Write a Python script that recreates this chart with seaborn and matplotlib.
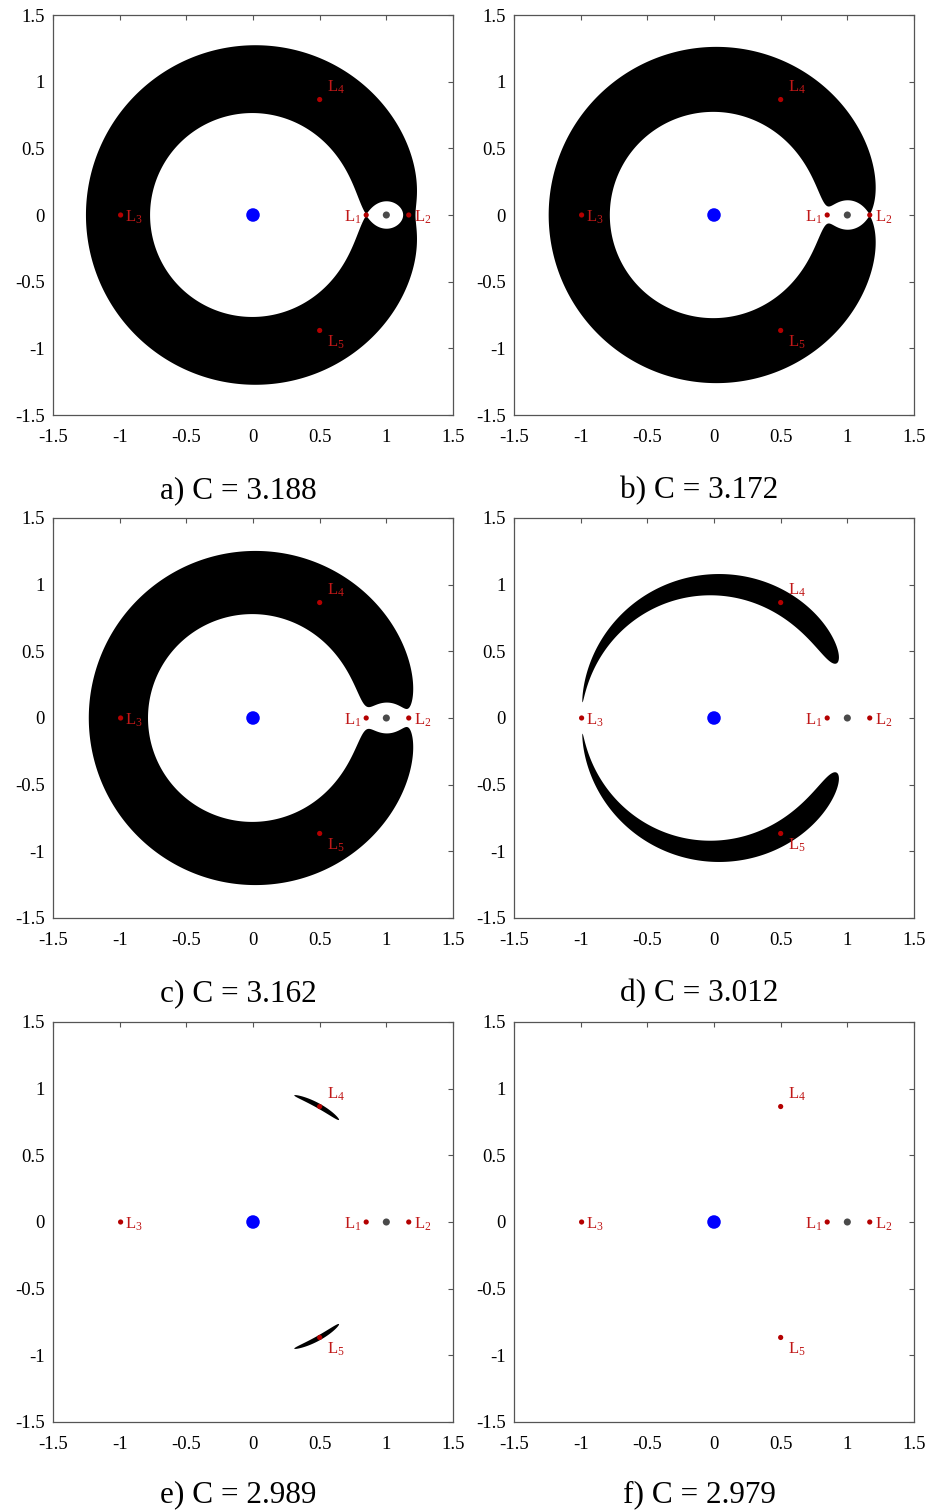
import numpy as np
import matplotlib
matplotlib.use("Agg")
import matplotlib.pyplot as plt
import seaborn as sns
import pandas as pd

# Earth-Moon circular restricted three-body problem, Earth-centred frame
mu = 0.01215
jacobi_C = [3.188, 3.172, 3.162, 3.012, 2.989, 2.979]
panel_tags = ["a)", "b)", "c)", "d)", "e)", "f)"]

# Lagrange points (Earth at origin, Moon at x = 1)
lagrange_names = ["L1", "L2", "L3", "L4", "L5"]
lagrange_x = [0.849, 1.168, -0.993, 0.5, 0.5]
lagrange_y = [0.0, 0.0, 0.0, 0.866, -0.866]

# Primaries
earth_x, earth_y = [0.0], [0.0]
moon_x, moon_y = [1.0], [0.0]

tick_vals = [-1.5, -1, -0.5, 0, 0.5, 1, 1.5]
tick_labels = ["-1.5", "-1", "-0.5", "0", "0.5", "1", "1.5"]

sns.set_theme(style="white")
plt.rcParams.update({
    "font.family": ["Liberation Serif", "DejaVu Serif"],
    "mathtext.fontset": "custom",
    "mathtext.rm": "Liberation Serif",
    "mathtext.it": "Liberation Serif:italic",
    "axes.unicode_minus": False,
    "axes.edgecolor": "#555555",
    "axes.linewidth": 0.9,
    "xtick.color": "#555555",
    "ytick.color": "#555555",
    "xtick.labelcolor": "black",
    "ytick.labelcolor": "black",
})

W, H = 933, 1510
fig = plt.figure(figsize=(W / 100, H / 100), dpi=100)

# effective potential 2*Omega on a grid (barycentre at x = mu)
g = np.linspace(-1.5, 1.5, 1500)
X, Y = np.meshgrid(g, g)
r1 = np.sqrt(X ** 2 + Y ** 2)
r2 = np.sqrt((X - 1) ** 2 + Y ** 2)
twoOmega = (X - mu) ** 2 + Y ** 2 + 2 * (1 - mu) / r1 + 2 * mu / r2

lag_df = pd.DataFrame({"x": lagrange_x, "y": lagrange_y, "name": lagrange_names})

# label offsets in points relative to each Lagrange point
label_style = {
    "L1": ((-3.5, -1.5), "right", "center"),
    "L2": ((3.5, -1.5), "left", "center"),
    "L3": ((3.5, -1.5), "left", "center"),
    "L4": ((5, 2.5), "left", "bottom"),
    "L5": ((5, -2.5), "left", "top"),
}

lefts = [53, 514]
tops = [15, 518, 1022]
size = 400
red = "#b40000"

for i, C in enumerate(jacobi_C):
    r, c = divmod(i, 2)
    ax = fig.add_axes([lefts[c] / W, 1 - (tops[r] + size) / H, size / W, size / H])

    # zero-velocity boundary: forbidden region where 2*Omega < C
    if twoOmega.min() < C:
        ax.contourf(X, Y, twoOmega, levels=[twoOmega.min(), C], colors="black",
                    antialiased=True)

    sns.scatterplot(x=earth_x, y=earth_y, ax=ax, s=95, color="#0000ff",
                    edgecolor="none", zorder=5)
    sns.scatterplot(x=moon_x, y=moon_y, ax=ax, s=26, color="#4a4a4a",
                    edgecolor="none", zorder=5)
    sns.scatterplot(data=lag_df, x="x", y="y", ax=ax, s=14, color=red,
                    edgecolor="none", zorder=6)
    for name, lx, ly in zip(lagrange_names, lagrange_x, lagrange_y):
        off, ha, va = label_style[name]
        ax.annotate("L$_{%s}$" % name[1], (lx, ly), xytext=off,
                    textcoords="offset points", ha=ha, va=va,
                    color="#c01818", fontsize=12, zorder=7)

    ax.set_xlim(-1.5, 1.5)
    ax.set_ylim(-1.5, 1.5)
    ax.set_xticks(tick_vals)
    ax.set_xticklabels(tick_labels)
    ax.set_yticks(tick_vals)
    ax.set_yticklabels(tick_labels)
    ax.tick_params(direction="in", length=3.5, width=0.8, top=True, right=True,
                   labelsize=13.5)
    ax.tick_params(axis="x", pad=10)
    ax.tick_params(axis="y", pad=6)
    ax.set_xlabel("")
    ax.set_ylabel("")
    for s in ax.spines.values():
        s.set_visible(True)

    cx = (lefts[c] + size / 2 - 15) / W
    base = [498, 1001, 1502][r]
    fig.text(cx, 1 - base / H, f"{panel_tags[i]} C = {C:.3f}", ha="center",
             va="baseline", fontsize=22.5, color="black")

fig.savefig("out.png", dpi=100)
